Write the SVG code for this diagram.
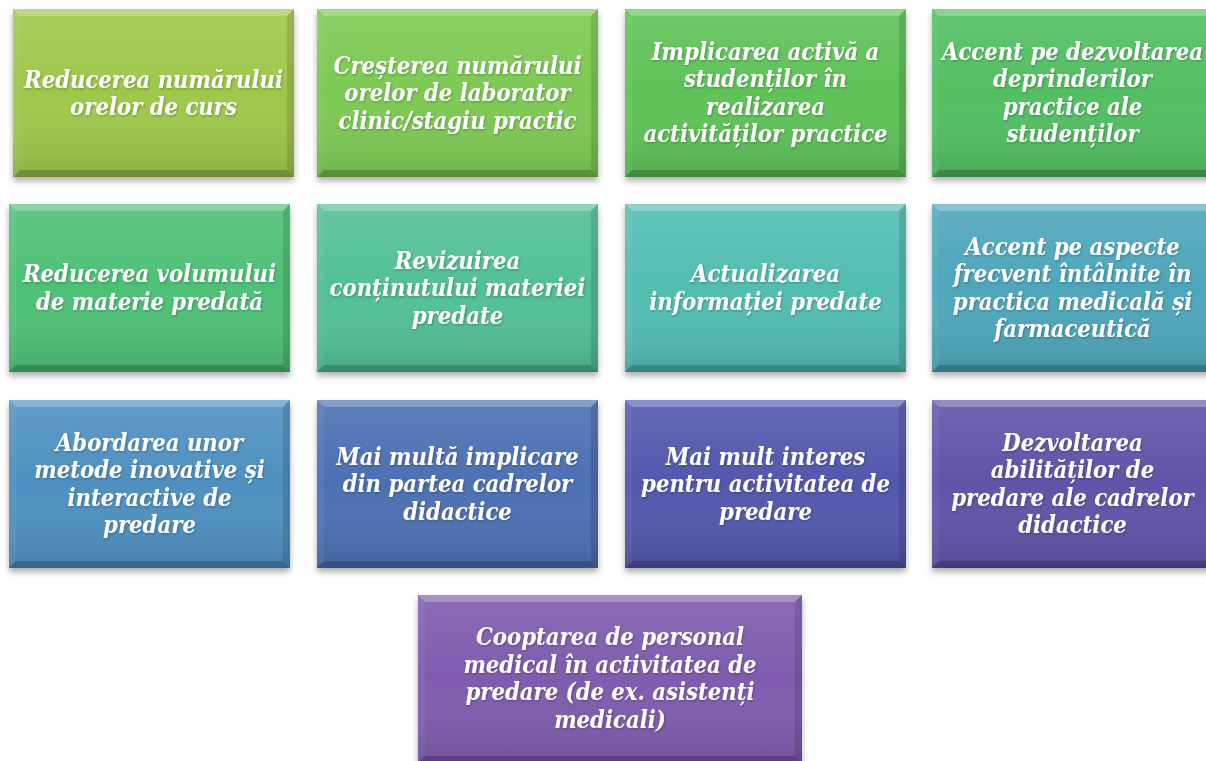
<svg xmlns="http://www.w3.org/2000/svg" width="1206" height="761" viewBox="0 0 1206 761">
<style>
.t{font-family:"DejaVu Serif Condensed","DejaVu Serif","Liberation Serif",serif;font-stretch:condensed;font-weight:bold;font-style:italic;font-size:23.6px;fill:#fff;text-anchor:middle;filter:url(#ts)}
.ov{fill:url(#sheen)}
</style>
<defs>
<linearGradient id="sheen" x1="0" y1="0" x2="0" y2="1">
<stop offset="0" stop-color="#fff" stop-opacity="0.1"/>
<stop offset="0.5" stop-color="#fff" stop-opacity="0"/>
<stop offset="1" stop-color="#000" stop-opacity="0.12"/>
</linearGradient>
<filter id="sh" x="-5%" y="-5%" width="110%" height="115%">
<feDropShadow dx="0" dy="4" stdDeviation="3" flood-color="#000" flood-opacity="0.32"/>
</filter>
<filter id="ts" x="-5%" y="-20%" width="110%" height="150%">
<feDropShadow dx="0.8" dy="1.2" stdDeviation="0.8" flood-color="#000" flood-opacity="0.28"/>
</filter>
<g id="bev">
<polygon points="0,0 281,0 274,7 7,7" fill="#fff" fill-opacity="0.25"/>
<polygon points="0,168 281,168 274,161 7,161" fill="#000" fill-opacity="0.2"/>
<polygon points="0,0 7,7 7,161 0,168" fill="#fff" fill-opacity="0.05"/>
<polygon points="281,0 274,7 274,161 281,168" fill="#000" fill-opacity="0.12"/>
</g>
<g id="bevw">
<polygon points="0,0 384,0 377,7 7,7" fill="#fff" fill-opacity="0.25"/>
<polygon points="0,168 384,168 377,161 7,161" fill="#000" fill-opacity="0.2"/>
<polygon points="0,0 7,7 7,161 0,168" fill="#fff" fill-opacity="0.05"/>
<polygon points="384,0 377,7 377,161 384,168" fill="#000" fill-opacity="0.12"/>
</g>
</defs>
<rect width="1206" height="761" fill="#fff"/>
<g id="connectors"/>

<g id="n1" transform="translate(13,9)">
<rect width="281" height="168" fill="#9fc84c" filter="url(#sh)"/><rect class="ov" width="281" height="168"/><use href="#bev"/>
<text class="t" x="140.5" y="79">Reducerea numărului</text>
<text class="t" x="140.5" y="106">orelor de curs</text>
</g>
<g id="n2" transform="translate(317,9)">
<rect width="281" height="168" fill="#7ec954" filter="url(#sh)"/><rect class="ov" width="281" height="168"/><use href="#bev"/>
<text class="t" x="140.5" y="65">Creșterea numărului</text>
<text class="t" x="140.5" y="92">orelor de laborator</text>
<text class="t" x="140.5" y="120">clinic/stagiu practic</text>
</g>
<g id="n3" transform="translate(625,9)">
<rect width="281" height="168" fill="#5fc258" filter="url(#sh)"/><rect class="ov" width="281" height="168"/><use href="#bev"/>
<text class="t" x="140.5" y="51">Implicarea activă a</text>
<text class="t" x="140.5" y="78">studenților în</text>
<text class="t" x="140.5" y="106">realizarea</text>
<text class="t" x="140.5" y="133">activităților practice</text>
</g>
<g id="n4" transform="translate(932,9)">
<rect width="281" height="168" fill="#52bf62" filter="url(#sh)"/><rect class="ov" width="281" height="168"/><use href="#bev"/>
<text class="t" x="140.5" y="51">Accent pe dezvoltarea</text>
<text class="t" x="140.5" y="78">deprinderilor</text>
<text class="t" x="140.5" y="106">practice ale</text>
<text class="t" x="140.5" y="133">studenților</text>
</g>

<g id="n5" transform="translate(9,204)">
<rect width="281" height="168" fill="#50c077" filter="url(#sh)"/><rect class="ov" width="281" height="168"/><use href="#bev"/>
<text class="t" x="140.5" y="78">Reducerea volumului</text>
<text class="t" x="140.5" y="106">de materie predată</text>
</g>
<g id="n6" transform="translate(317,204)">
<rect width="281" height="168" fill="#52c095" filter="url(#sh)"/><rect class="ov" width="281" height="168"/><use href="#bev"/>
<text class="t" x="140.5" y="65">Revizuirea</text>
<text class="t" x="140.5" y="92">conținutului materiei</text>
<text class="t" x="140.5" y="120">predate</text>
</g>
<g id="n7" transform="translate(625,204)">
<rect width="281" height="168" fill="#52bdb2" filter="url(#sh)"/><rect class="ov" width="281" height="168"/><use href="#bev"/>
<text class="t" x="140.5" y="78">Actualizarea</text>
<text class="t" x="140.5" y="106">informației predate</text>
</g>
<g id="n8" transform="translate(932,204)">
<rect width="281" height="168" fill="#4fa6bb" filter="url(#sh)"/><rect class="ov" width="281" height="168"/><use href="#bev"/>
<text class="t" x="140.5" y="51">Accent pe aspecte</text>
<text class="t" x="140.5" y="78">frecvent întâlnite în</text>
<text class="t" x="140.5" y="106">practica medicală și</text>
<text class="t" x="140.5" y="133">farmaceutică</text>
</g>

<g id="n9" transform="translate(9,400)">
<rect width="281" height="168" fill="#5090c0" filter="url(#sh)"/><rect class="ov" width="281" height="168"/><use href="#bev"/>
<text class="t" x="140.5" y="51">Abordarea unor</text>
<text class="t" x="140.5" y="78">metode inovative și</text>
<text class="t" x="140.5" y="106">interactive de</text>
<text class="t" x="140.5" y="133">predare</text>
</g>
<g id="n10" transform="translate(317,400)">
<rect width="281" height="168" fill="#4d70b3" filter="url(#sh)"/><rect class="ov" width="281" height="168"/><use href="#bev"/>
<text class="t" x="140.5" y="65">Mai multă implicare</text>
<text class="t" x="140.5" y="92">din partea cadrelor</text>
<text class="t" x="140.5" y="120">didactice</text>
</g>
<g id="n11" transform="translate(625,400)">
<rect width="281" height="168" fill="#5258ad" filter="url(#sh)"/><rect class="ov" width="281" height="168"/><use href="#bev"/>
<text class="t" x="140.5" y="65">Mai mult interes</text>
<text class="t" x="140.5" y="92">pentru activitatea de</text>
<text class="t" x="140.5" y="120">predare</text>
</g>
<g id="n12" transform="translate(932,400)">
<rect width="281" height="168" fill="#6452a8" filter="url(#sh)"/><rect class="ov" width="281" height="168"/><use href="#bev"/>
<text class="t" x="140.5" y="51">Dezvoltarea</text>
<text class="t" x="140.5" y="78">abilităților de</text>
<text class="t" x="140.5" y="106">predare ale cadrelor</text>
<text class="t" x="140.5" y="133">didactice</text>
</g>

<g id="n13" transform="translate(418,595)">
<rect width="384" height="168" fill="#7f5bae" filter="url(#sh)"/><rect class="ov" width="384" height="168"/><use href="#bevw"/>
<text class="t" x="192" y="50">Cooptarea de personal</text>
<text class="t" x="192" y="78">medical în activitatea de</text>
<text class="t" x="192" y="105">predare (de ex. asistenți</text>
<text class="t" x="192" y="133">medicali)</text>
</g>
</svg>
